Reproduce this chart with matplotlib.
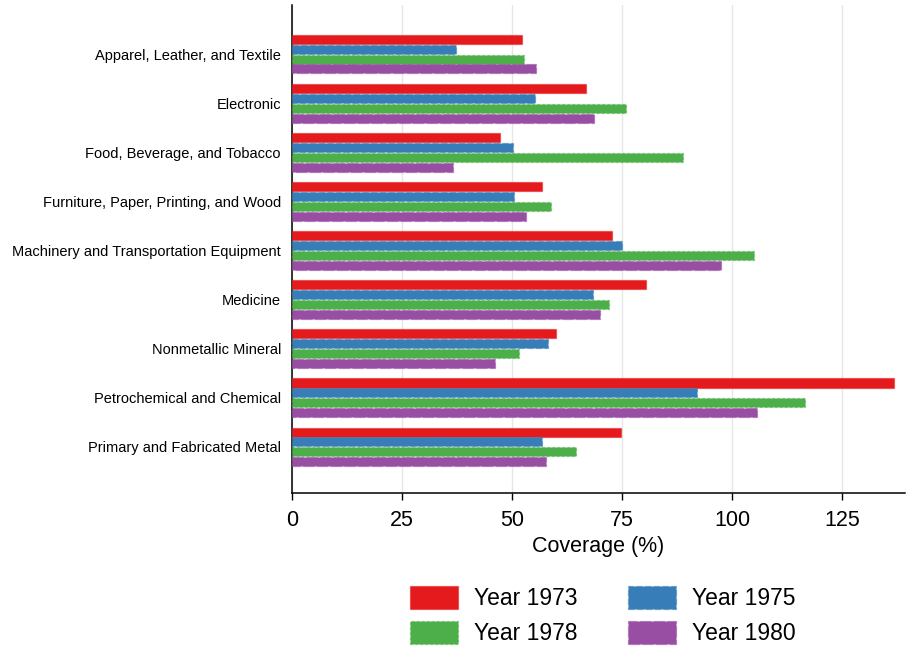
import numpy as np
import matplotlib
matplotlib.use('Agg')
import matplotlib.pyplot as plt
from matplotlib.colors import to_rgba

plt.rcParams['font.family'] = ['Liberation Sans', 'DejaVu Sans']

categories = ['Apparel, Leather, and Textile', 'Electronic', 'Food, Beverage, and Tobacco',
              'Furniture, Paper, Printing, and Wood', 'Machinery and Transportation Equipment',
              'Medicine', 'Nonmetallic Mineral', 'Petrochemical and Chemical',
              'Primary and Fabricated Metal']
years = ['Year 1973', 'Year 1975', 'Year 1978', 'Year 1980']

cov_1973 = [52.3, 66.8, 47.3, 56.7, 72.6, 80.5, 59.9, 136.8, 74.8]
cov_1975 = [37.3, 55.2, 50.1, 50.5, 75.0, 68.4, 58.1, 92.0, 56.7]
cov_1978 = [52.7, 75.8, 88.9, 58.9, 105.0, 72.1, 51.6, 116.6, 64.5]
cov_1980 = [55.5, 68.5, 36.5, 53.1, 97.4, 70.0, 46.0, 105.6, 57.7]

series = [cov_1973, cov_1975, cov_1978, cov_1980]
colors = ['#e41a1c', '#377eb8', '#4daf4a', '#984ea3']
linestyles = ['-', (0, (5, 2)), (0, (2, 2)), (0, (9, 2))]

fig = plt.figure(figsize=(9.07, 6.46), dpi=100)
ax = fig.add_axes([0.322, 0.237, 0.676, 0.755])

y = np.arange(len(categories))
bar_h = 0.2
offsets = [-0.3, -0.1, 0.1, 0.3]

handles = []
for vals, col, ls, off, lab in zip(series, colors, linestyles, offsets, years):
    h = ax.barh(y + off, vals, height=bar_h * 0.92, color=col, label=lab,
                edgecolor=to_rgba(col, 0.5), linewidth=0.9, linestyle=ls, zorder=3)
    handles.append(h)

ax.set_ylim(8.94, -1.0)
ax.set_xlim(0, 139.3)
ax.set_yticks(y)
ax.set_yticklabels(categories, fontsize=10.5)
ax.set_xticks([0, 25, 50, 75, 100, 125])
ax.tick_params(axis='x', labelsize=15.5, length=5, width=1, direction='out', pad=7)
ax.tick_params(axis='y', length=0, pad=8)
ax.set_xlabel('Coverage (%)', fontsize=15.5, labelpad=4)

ax.grid(axis='x', color='#e6e6e6', linewidth=1, zorder=0)
ax.set_axisbelow(True)
for s in ['top', 'right']:
    ax.spines[s].set_visible(False)
for s in ['left', 'bottom']:
    ax.spines[s].set_linewidth(1.1)
    ax.spines[s].set_color('black')

# row-major legend order: 1973, 1975 / 1978, 1980
order = [0, 2, 1, 3]
fig.legend([handles[i] for i in order], [years[i] for i in order],
           loc='center', bbox_to_anchor=(0.665, 0.047), ncol=2, frameon=False,
           fontsize=16.5, handlelength=2.1, handleheight=1.15, columnspacing=2.2,
           handletextpad=0.7, labelspacing=0.45)

fig.savefig('out.png', dpi=100)
